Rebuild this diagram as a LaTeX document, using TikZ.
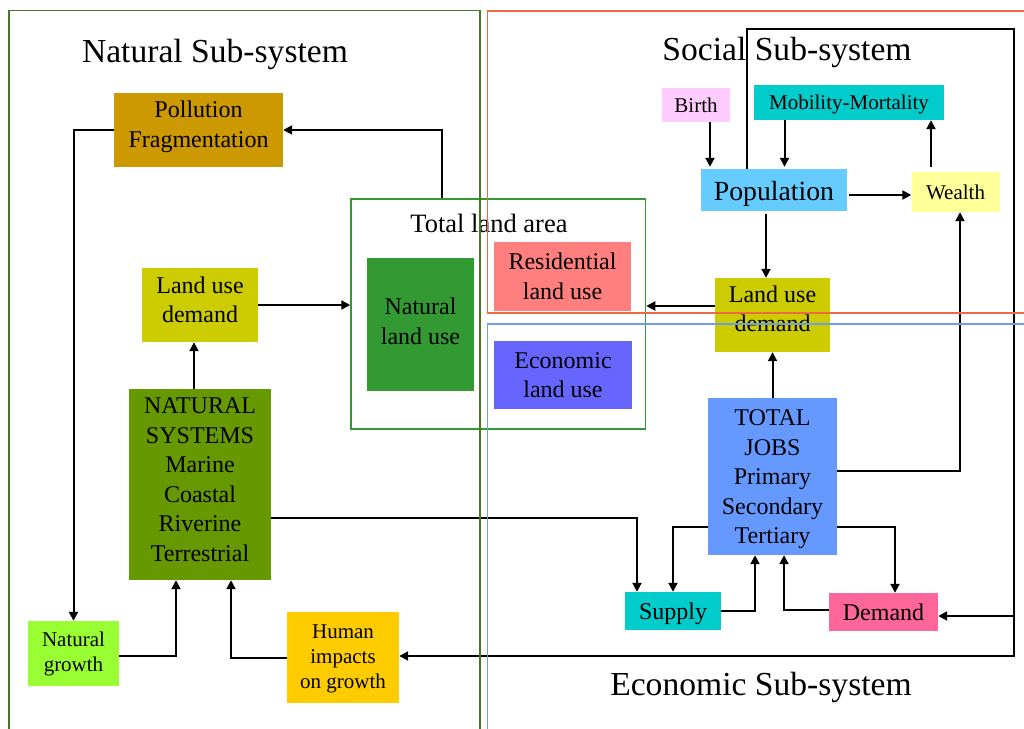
\documentclass[tikz,border=0pt]{standalone}
\usepackage{fontspec}
\setmainfont{Liberation Serif}
\usetikzlibrary{arrows.meta}

% fills
\definecolor{cPoll}{HTML}{CC9900}
\definecolor{cLud}{HTML}{CCCC00}
\definecolor{cNland}{HTML}{339933}
\definecolor{cResid}{HTML}{FF7F7F}
\definecolor{cEcon}{HTML}{6666FF}
\definecolor{cNsys}{HTML}{669900}
\definecolor{cNgrow}{HTML}{99FF33}
\definecolor{cHimp}{HTML}{FFCC00}
\definecolor{cBirth}{HTML}{FFCCFF}
\definecolor{cMob}{HTML}{00CCCC}
\definecolor{cPop}{HTML}{66CCFF}
\definecolor{cWealth}{HTML}{FFFF99}
\definecolor{cJobs}{HTML}{6699FF}
\definecolor{cSupply}{HTML}{00CCCC}
\definecolor{cDemand}{HTML}{FF6699}
% frames
\definecolor{fNat}{HTML}{4A7526}
\definecolor{fTla}{HTML}{339933}
\definecolor{fSoc}{HTML}{EE6A40}
\definecolor{fEco}{HTML}{6D9EEB}

\tikzset{
  box/.style={rectangle, inner sep=0pt},
  txt/.style={align=center, inner sep=0pt, text=black,
    font=\fontsize{24}{29.5}\selectfont},
  smalltxt/.style={txt, font=\fontsize{21}{25}\selectfont},
  title/.style={anchor=base, inner sep=0pt, font=\fontsize{33.6}{40}\selectfont},
  frame/.style={line width=1.5pt},
  arr/.style={draw=black, line width=2pt, -{Triangle[length=9pt,width=9pt]}},
}

\begin{document}
\begin{tikzpicture}[x=1pt,y=-1pt]
\useasboundingbox (0,0) rectangle (1024,728);
\clip (0,0) rectangle (1024,728);
\fill[white] (0,0) rectangle (1024,728);

% titles
\node[title] (tNat) at (215,62) {Natural Sub-system};
\node[title] (tSoc) at (787,60) {Social Sub-system};
\node[title] (tEco) at (761,695.5) {Economic Sub-system};

% total land area
\node[draw=fTla, line width=1.5pt, minimum width=294.5pt, minimum height=230pt, inner sep=0pt] (tla) at (498.25,314) {};
\node[anchor=base, inner sep=0pt, font=\fontsize{26.5}{30}\selectfont] (tlaT) at (489,232) {Total land area};
\node[box, fill=cNland, minimum width=107pt, minimum height=133pt,
  label={[txt, yshift=3pt]center:{Natural\\land use}}] (nland) at (420.5,324.5) {};
\node[box, fill=cResid, minimum width=137pt, minimum height=69pt,
  label={[txt]center:{Residential\\land use}}] (resid) at (562.5,276.5) {};
\node[box, fill=cEcon, minimum width=138pt, minimum height=68pt,
  label={[txt]center:{Economic\\land use}}] (econ) at (563,375) {};

% natural sub-system
\node[box, fill=cPoll, minimum width=169pt, minimum height=74pt,
  label={[txt, yshift=3pt]center:{Pollution\\Fragmentation}}] (poll) at (198.5,130) {};
\node[box, fill=cLud, minimum width=116pt, minimum height=74pt,
  label={[txt, yshift=5pt]center:{Land use\\demand}}] (lud1) at (200,305) {};
\node[box, fill=cNsys, minimum width=142pt, minimum height=191pt,
  label={[txt, yshift=5pt]center:{NATURAL\\SYSTEMS\\Marine\\Coastal\\Riverine\\Terrestrial}}] (nsys) at (200,484.5) {};
\node[box, fill=cNgrow, minimum width=91pt, minimum height=65pt,
  label={[smalltxt]center:{Natural\\growth}}] (ngrow) at (73.5,653.5) {};
\node[box, fill=cHimp, minimum width=112pt, minimum height=91pt,
  label={[smalltxt, yshift=-1pt]center:{Human\\impacts\\on growth}}] (himp) at (343,657.5) {};

% social sub-system
\node[box, fill=cBirth, minimum width=68pt, minimum height=34pt,
  label={[smalltxt]center:Birth}] (birth) at (696,105) {};
\node[box, fill=cMob, minimum width=190pt, minimum height=35pt,
  label={[smalltxt, yshift=-2pt]center:Mobility-Mortality}] (mob) at (849,102.5) {};
\node[box, fill=cPop, minimum width=145.5pt, minimum height=42pt,
  label={[txt, yshift=-4pt, font=\fontsize{27.7}{32}\selectfont]center:Population}] (pop) at (774,190) {};
\node[box, fill=cWealth, minimum width=88pt, minimum height=40pt,
  label={[smalltxt]center:Wealth}] (wealth) at (955.5,192) {};
\node[box, fill=cLud, minimum width=115pt, minimum height=74pt,
  label={[txt, yshift=6pt]center:{Land use\\demand}}] (lud2) at (772.5,315) {};

% economic sub-system
\node[box, fill=cJobs, minimum width=129pt, minimum height=157pt,
  label={[txt, yshift=-3pt]center:{TOTAL\\JOBS\\Primary\\Secondary\\Tertiary}}] (jobs) at (772.5,476.5) {};
\node[box, fill=cSupply, minimum width=96pt, minimum height=38pt,
  label={[txt, yshift=-3pt]center:Supply}] (supply) at (673,611) {};
\node[box, fill=cDemand, minimum width=109pt, minimum height=38pt,
  label={[txt]center:Demand}] (demand) at (883.5,612) {};

% connectors: natural side
\draw[arr] (poll.west) -| (ngrow.north);
\draw[arr] ([xshift=92pt]tla.north west) |- (poll.east);
\draw[arr] (lud1.east) -- (lud1.east -| tla.west);
\draw[arr] ([xshift=-6pt]nsys.north) -- ([xshift=-6pt]lud1.south);
\draw[arr] ([yshift=-2.5pt]ngrow.east) -| ([xshift=-24pt]nsys.south);
\draw[arr] (himp.west) -| ([xshift=31pt]nsys.south);
\draw[arr] ([yshift=-33pt]nsys.east) -| ([xshift=-36pt]supply.north);

% connectors: social side
\coordinate (bIn) at ([xshift=14pt]birth.south);
\draw[arr] (bIn) -- ([yshift=2pt]bIn |- pop.north);
\coordinate (mIn) at ([xshift=-64.5pt]mob.south);
\draw[arr] (mIn) -- ([yshift=2pt]mIn |- pop.north);
\coordinate (wUp) at ([xshift=-24.5pt,yshift=5pt]wealth.north);
\draw[arr] (wUp) -- (wUp |- mob.south);
\coordinate (pw) at ([xshift=2pt,yshift=-5pt]pop.east);
\draw[arr] (pw) -- (pw -| wealth.west);
\coordinate (pd) at ([xshift=-8pt,yshift=-3pt]pop.south);
\draw[arr] (pd) -- (pd |- lud2.north);
\coordinate (lr) at ([yshift=9pt]lud2.west);
\draw[arr] (lr) -- (lr -| tla.east);

% connectors: economic side
\draw[arr] (jobs.north) -- (lud2.south);
\draw[arr] ([yshift=-50.5pt]jobs.west) -| (supply.north);
\draw[arr] (supply.east) -| ([xshift=-17.5pt]jobs.south);
\draw[arr] ([yshift=2pt]demand.west) -| ([xshift=11.5pt]jobs.south);
\draw[arr] ([yshift=-50.5pt]jobs.east) -| ([xshift=11.5pt]demand.north);
\draw[arr] ([yshift=5.5pt]jobs.east) -| ([xshift=4.5pt]wealth.south);

% feedback loop from population to demand and human impacts
\coordinate (loopNE) at (1014,29);
\draw[arr] ([xshift=-27pt]pop.north) |- (loopNE) |- ([yshift=1.5pt]himp.east);
\coordinate (dIn) at ([yshift=-4pt]demand.east);
\draw[arr] (dIn -| loopNE) -- (dIn);

% sub-system frames
\draw[frame, draw=fNat] (9,10.7) rectangle (480,740);
\draw[frame, draw=fSoc] (487.6,11) rectangle (1040,313);
\draw[frame, draw=fEco] (487.6,324) rectangle (1040,740);
\end{tikzpicture}
\end{document}
